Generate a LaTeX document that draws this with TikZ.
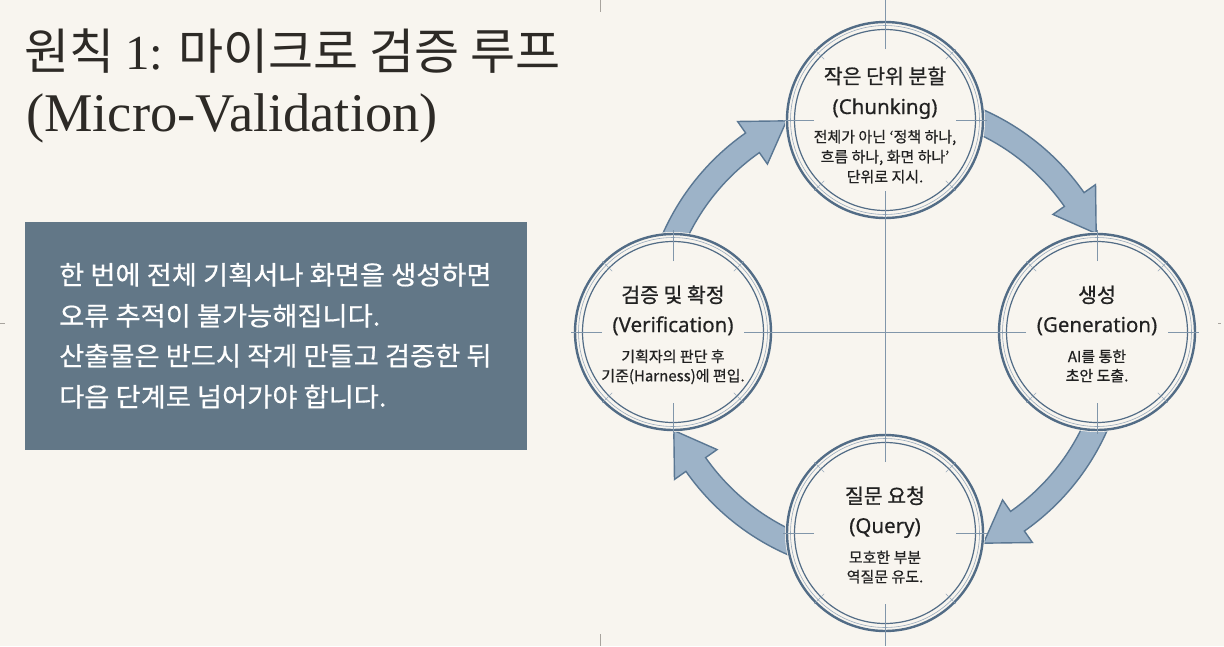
\documentclass[tikz,border=0pt]{standalone}
\usepackage{fontspec}
\newfontfamily\kr{Noto Sans CJK KR}
\newfontfamily\krb{Noto Sans CJK KR}[FakeBold=0.7]
\newfontfamily\krw{Noto Sans CJK KR}[FakeStretch=1.05,FakeBold=0.6]
\newfontfamily\lat{Noto Sans}[FakeBold=0.5]
\newfontfamily\ttlserif{Liberation Serif}
\usetikzlibrary{calc}
\definecolor{paper}{HTML}{F8F5EF}
\definecolor{boxc}{HTML}{627787}
\definecolor{ringc}{HTML}{526C86}
\definecolor{ringl}{HTML}{9AABBC}
\definecolor{crossc}{HTML}{8196AA}
\definecolor{arrowf}{HTML}{9DB3C8}
\definecolor{arrowd}{HTML}{5A7793}
\definecolor{ink}{HTML}{2D2A26}
\definecolor{cink}{HTML}{222222}
\definecolor{markc}{HTML}{A8A49E}
\begin{document}
\begin{tikzpicture}[x=1pt,y=-1pt,
  ctl/.style={font=\krb\fontsize{20.5}{24}\selectfont, text=cink, inner sep=0pt, anchor=base},
  cnm/.style={font=\lat\fontsize{20.5}{24}\selectfont, text=cink, inner sep=0pt, anchor=base},
  cds/.style={font=\krb\fontsize{15}{18}\selectfont, text=cink, inner sep=0pt, anchor=base},
  btext/.style={font=\krw\fontsize{26}{30}\selectfont, text=white, inner sep=0pt, anchor=base west},
  arrowbody/.style={fill=arrowf, draw=arrowd, line width=1.4pt, line join=miter},
  cross/.style={crossc, line width=1pt},
  cmark/.style={markc, line width=0.8pt}]
\useasboundingbox (0,0) rectangle (1224,646);
\fill[paper] (0,0) rectangle (1224,646);

% slide edge marks
\coordinate (mt1) at (600,0); \coordinate (mt2) at (600,12);
\coordinate (mb1) at (600,634); \coordinate (mb2) at (600,646);
\coordinate (ml1) at (0,323); \coordinate (ml2) at (5,323);
\coordinate (mr1) at (1218,323); \coordinate (mr2) at (1221,323);
\draw[cmark] (mt1) -- (mt2);
\draw[cmark] (mb1) -- (mb2);
\draw[cmark] (ml1) -- (ml2);
\draw[cmark] (mr1) -- (mr2);

% title
\node[anchor=base west, inner sep=0pt, text=ink, font=\kr\fontsize{49}{58}\selectfont] (title1) at (24,69) {원칙 {\ttlserif 1:} 마이크로 검증 루프};
\node[anchor=base west, inner sep=0pt, text=ink, font=\ttlserif\fontsize{54.5}{62}\selectfont] (title2) at (26,131) {(Micro-Validation)};

% text box
\node[fill=boxc, anchor=north west, minimum width=502pt, minimum height=228pt, inner sep=0pt] (box) at (25,222) {};
\node[btext] (b1) at (59,284.5) {한 번에 전체 기획서나 화면을 생성하면};
\node[btext] (b2) at (59,325.5) {오류 추적이 불가능해집니다.};
\node[btext] (b3) at (59,365.5) {산출물은 반드시 작게 만들고 검증한 뒤};
\node[btext] (b4) at (59,406.5) {다음 단계로 넘어가야 합니다.};

% circle nodes
\coordinate (O) at (885,332);
\node[circle, minimum size=198pt, inner sep=0pt] (c1) at (885,120) {};
\node[circle, minimum size=198pt, inner sep=0pt] (c2) at (1097,332) {};
\node[circle, minimum size=198pt, inner sep=0pt] (c3) at (885,533) {};
\node[circle, minimum size=198pt, inner sep=0pt] (c4) at (673,332) {};

% arrows
\begin{scope}[shift={(O)}]
\foreach \s/\h/\e in {-72/-35/-25, 18/55/65, 108/145/155, 198/235/245}{
  \filldraw[arrowbody] plot[domain=\s:\h, samples=40, variable=\t] ({243*cos(\t)},{243*sin(\t)})
    -- (\h:257) -- (\e:233) -- (\h:205)
    -- plot[domain=\h:\s, samples=40, variable=\t] ({219*cos(\t)},{219*sin(\t)}) -- cycle;
}
\end{scope}

% rings
\foreach \c in {c1,c2,c3,c4}{
  \fill[paper] (\c) circle[radius=100pt];
  \draw[ringc, line width=2.4pt] (\c) circle[radius=98pt];
  \draw[ringl, line width=0.6pt] (\c) circle[radius=94.5pt];
  \draw[ringc, line width=1.2pt] (\c) circle[radius=90.5pt];
  \foreach \a in {45,135,225,315} \draw[ringl, line width=0.6pt] ($(\c)+(\a:86)$) -- ($(\c)+(\a:100)$);
  \foreach \a in {0,90,180,270} \draw[cross] ($(\c)+(\a:71)$) -- ($(\c)+(\a:102)$);
}

% cross lines
\draw[cross] ($(c1)+(0,71)$) -- ($(c3)+(0,-71)$);
\draw[cross] ($(c4)+(71,0)$) -- ($(c2)+(-71,0)$);
\draw[cross] ($(c1)+(0,-71)$) -- ($(c1)+(0,-120)$);
\draw[cross] ($(c3)+(0,71)$) -- ($(c3)+(0,113)$);

% texts: top
\node[ctl] (c1t) at ($(c1)+(0,-36.2)$) {작은 단위 분할};
\node[cnm] (c1n) at ($(c1)+(0,-6)$) {(Chunking)};
\node[cds] (c1d1) at ($(c1)+(0,22.3)$) {전체가 아닌 ‘정책 하나,};
\node[cds] (c1d2) at ($(c1)+(0,42.3)$) {흐름 하나, 화면 하나’};
\node[cds] (c1d3) at ($(c1)+(0,62.3)$) {단위로 지시.};
% right
\node[ctl] (c2t) at ($(c2)+(0,-29.5)$) {생성};
\node[cnm] (c2n) at ($(c2)+(0,0)$) {(Generation)};
\node[cds] (c2d1) at ($(c2)+(0,30)$) {AI를 통한};
\node[cds] (c2d2) at ($(c2)+(0,49.3)$) {초안 도출.};
% bottom
\node[ctl] (c3t) at ($(c3)+(0,-29.5)$) {질문 요청};
\node[cnm] (c3n) at ($(c3)+(0,0)$) {(Query)};
\node[cds] (c3d1) at ($(c3)+(0,30)$) {모호한 부분};
\node[cds] (c3d2) at ($(c3)+(0,49.3)$) {역질문 유도.};
% left
\node[ctl] (c4t) at ($(c4)+(0,-29.5)$) {검증 및 확정};
\node[cnm] (c4n) at ($(c4)+(0,0)$) {(Verification)};
\node[cds] (c4d1) at ($(c4)+(0,30)$) {기획자의 판단 후};
\node[cds] (c4d2) at ($(c4)+(0,49.3)$) {기준(Harness)에 편입.};
\end{tikzpicture}
\end{document}
